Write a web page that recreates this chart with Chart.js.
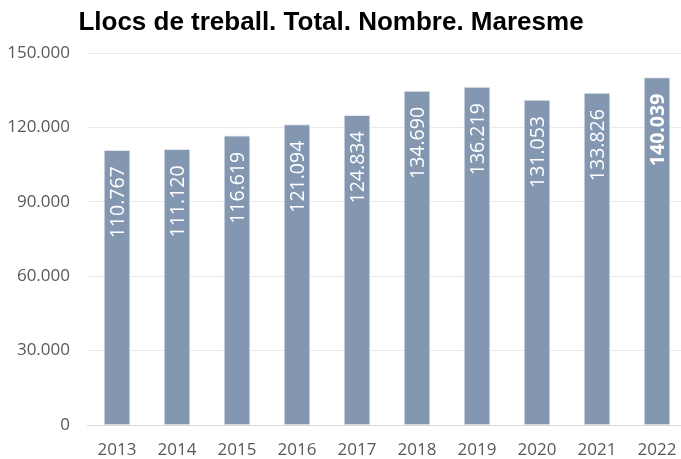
<!DOCTYPE html>
<html>
<head>
<meta charset="utf-8">
<script src="https://cdn.jsdelivr.net/npm/chart.js@4"></script>
<style>
  html, body { margin: 0; padding: 0; background: #fff; overflow: hidden; }
  #wrap { width: 690px; height: 459px; }
</style>
</head>
<body>
<div id="wrap"><canvas id="chart"></canvas></div>
<script>
// Data
const years = ['2013', '2014', '2015', '2016', '2017', '2018', '2019', '2020', '2021', '2022'];
const llocs = [110767, 111120, 116619, 121094, 124834, 134690, 136219, 131053, 133826, 140039];
const yTicks = [0, 30000, 60000, 90000, 120000, 150000];
const titleText = 'Llocs de treball. Total. Nombre. Maresme';

const fmt = v => String(v).replace(/\B(?=(\d{3})+(?!\d))/g, '.');

// Title drawn by hand so it sits where the original does
const titlePlugin = {
    id: 'titlePlugin',
    afterDraw(chart) {
        const ctx = chart.ctx;
        ctx.save();
        ctx.font = 'bold 26px "Liberation Sans", Arial';
        ctx.fillStyle = '#000000';
        ctx.textAlign = 'center';
        ctx.textBaseline = 'middle';
        ctx.fillText(titleText, 331, 23);
        ctx.restore();
    }
};

// Rotated value labels inside the bars
const barLabels = {
    id: 'barLabels',
    afterDatasetsDraw(chart) {
        const ctx = chart.ctx;
        const meta = chart.getDatasetMeta(0);
        meta.data.forEach((bar, i) => {
            const last = i === meta.data.length - 1;
            ctx.save();
            ctx.translate(bar.x, bar.y + 16);
            ctx.rotate(-Math.PI / 2);
            ctx.font = (last ? 'bold ' : '') + '19.5px "Open Sans"';
            ctx.fillStyle = '#ffffff';
            ctx.textAlign = 'right';
            ctx.textBaseline = 'middle';
            ctx.fillText(fmt(llocs[i]), 0, 1);
            ctx.restore();
        });
    }
};

const ctx = document.getElementById('chart');
new Chart(ctx, {
    type: 'bar',
    data: {
        labels: years,
        datasets: [{
            data: llocs,
            backgroundColor: '#8497b0',
            borderColor: '#e4e8ee',
            borderWidth: 1,
            barThickness: 26
        }]
    },
    options: {
        responsive: true,
        maintainAspectRatio: false,
        animation: false,
        layout: { padding: { left: 0, right: 3, top: 53, bottom: 0 } },
        plugins: {
            legend: { display: false },
            tooltip: { enabled: false },
            title: { display: false }
        },
        scales: {
            x: {
                grid: { display: false },
                border: { color: '#d9d9d9', width: 1 },
                ticks: {
                    color: '#595959',
                    font: { family: '"Open Sans"', size: 17 },
                    padding: 7
                },
                afterFit: s => { s.height = 34; }
            },
            y: {
                min: 0,
                max: 150000,
                afterBuildTicks: s => { s.ticks = yTicks.map(v => ({ value: v })); },
                grid: { color: '#ebebeb', drawTicks: false },
                border: { display: false },
                ticks: {
                    color: '#595959',
                    font: { family: '"Open Sans"', size: 17 },
                    padding: 17,
                    callback: v => fmt(v)
                },
                afterFit: s => { s.width = 87; }
            }
        }
    },
    plugins: [barLabels, titlePlugin]
});
</script>
</body>
</html>
